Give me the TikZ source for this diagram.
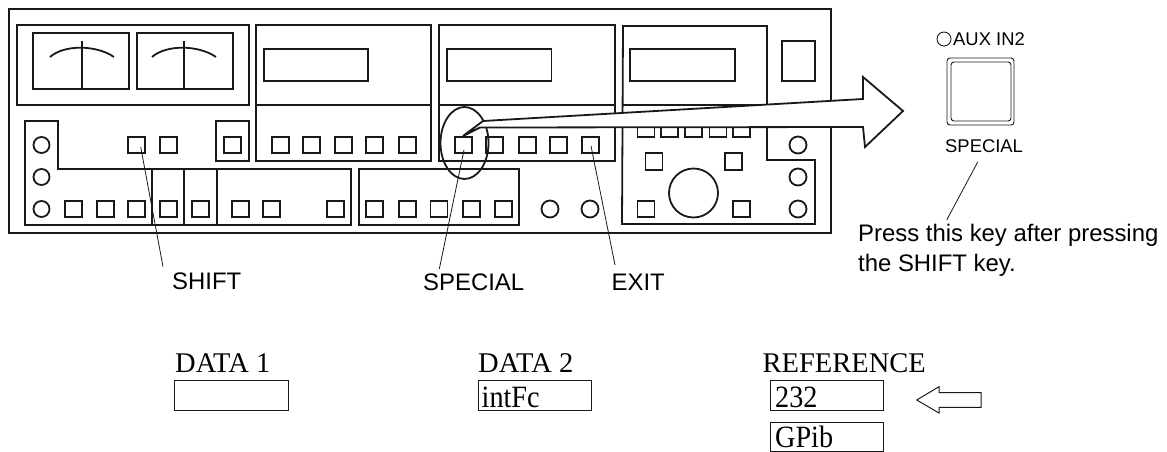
\documentclass[tikz,border=0pt]{standalone}
\usepackage{fontspec}
\setmainfont{Liberation Serif}
\newfontfamily\labelfont{Liberation Sans}
\usetikzlibrary{arrows.meta, positioning}
\tikzset{
  panel/.style={line width=1.8pt, black!90},
  key/.style={line width=1.8pt, black!90},
  leader/.style={line width=0.8pt, black!90},
  callout/.style={font=\labelfont\fontsize{23.9}{27}\selectfont, inner sep=0pt, anchor=base west},
  tag/.style={font=\labelfont\fontsize{18.4}{22}\selectfont, inner sep=0pt, anchor=base west},
  datatext/.style={font=\fontsize{28.5}{32}\selectfont, inner sep=0pt, anchor=base west},
  datavalue/.style={font=\fontsize{31}{34}\selectfont, inner sep=0pt, anchor=base west, xscale=0.91, transform shape},
  databox/.style={line width=1pt, black!90}
}
\begin{document}
\begin{tikzpicture}[x=1pt, y=-1pt]
  \useasboundingbox (0,0) rectangle (1167,452);
  % front panel
  \draw[panel] (9,9) rectangle (831,233);
  % meters
  \draw[panel] (17,25) rectangle (249,105);
  \foreach \mx/\cx in {33/82, 137/184} {
    \draw[panel] (\mx,33) rectangle (\mx+96,89);
    \draw[panel] (\cx,41) -- (\cx,89);
    \draw[panel] (\cx-32,57) .. controls (\cx-18,44.6) and (\cx+14,44.6) .. (\cx+32,57);
  }
  % displays
  \draw[panel] (256,25) rectangle (431,161);
  \draw[panel] (256,105) -- (431,105);
  \draw[panel] (264,49) rectangle (368,81);
  \draw[panel] (439,25) rectangle (615,161);
  \draw[panel] (439,105) -- (615,105);
  \draw[panel] (447,49) rectangle (551.5,81);
  \draw[panel] (623,26) -- (767,26) -- (767,160) -- (815,160) -- (815,224)
    -- (622,224) -- cycle;
  \draw[panel] (623,105) -- (767,105);
  \draw[panel] (630,49) rectangle (735,81);
  \draw[panel] (782,41) rectangle (815,81);
  % lower left groups
  \draw[panel] (25,121) -- (58,121) -- (58,169) -- (351,169) -- (351,225)
    -- (25,225) -- cycle;
  \foreach \dx in {152,184,217}
    \draw[panel] (\dx,169) -- (\dx,225);
  \draw[panel] (216,121) rectangle (249,161);
  \draw[panel] (359,169) rectangle (519,225);
  % keys
  \foreach \kx in {128,160,224,272,303,335,366,399,455,486,518.7,550,582}
    \draw[key] (\kx,137) rectangle (\kx+17,153);
  \foreach \kx in {65,97,128,160,192,232,263,327,366,398.7,430.5,462.7,494.7,637.5,732.7}
    \draw[key] (\kx,201) rectangle (\kx+17,217);
  \foreach \kx in {637.5,661,685,709.5,733}
    \draw[key] (\kx,121) rectangle (\kx+17,137);
  \foreach \kx in {645.5,725}
    \draw[key] (\kx,153) rectangle (\kx+17,170);
  % round keys
  \foreach \ky in {145,177,209} {
    \draw[key] (41.5,\ky) circle (8);
    \draw[key] (798,\ky) circle (8.5);
  }
  \draw[key] (550,209) circle (8.5);
  \draw[key] (590,209) circle (8.5);
  \draw[key] (693.5,193) circle (24.5);
  % ring round the key
  \draw[panel] (464.5,143) ellipse (24 and 36);
  % big arrow
  \draw[panel, fill=white, line join=miter] (463,136) -- (483,121) -- (863,99) -- (863,77)
    -- (903,111) -- (865,147) -- (863,127) -- (480,127.5) -- cycle;
  % key close-up
  \draw[line width=0.9pt, rounded corners=3pt, black!90] (947,58) rectangle (1014,125);
  \draw[line width=0.9pt, rounded corners=3pt, black!90] (951,62) rectangle (1011,121);
  \draw[line width=0.9pt, black!90] (944,39) circle (7);
  \node[tag] (auxlabel) at (953,45.5) {AUX IN2};
  \node[tag] (speciallabel) at (945,152) {SPECIAL};
  \node[callout] (pressnote) at (858,241) {Press this key after pressing};
  \node[callout] (shiftnote) at (858,271) {the SHIFT key.};
  % callouts
  \node[callout] (shiftlabel) at (172,289) {SHIFT};
  \node[callout] (speciallow) at (423,290.5) {SPECIAL};
  \node[callout] (exitlabel) at (611.5,290) {EXIT};
  \coordinate (shiftkey) at (140.7,147);
  \coordinate (specialkey) at (464,150);
  \coordinate (exitkey) at (591,146);
  \coordinate (shiftend) at (163,266.7);
  \coordinate (specialend) at (439.3,269);
  \coordinate (exitend) at (615,265);
  \coordinate (notetop) at (977.7,162);
  \coordinate (noteend) at (946.7,220);
  \draw[leader] (shiftkey) -- (shiftend);
  \draw[leader] (specialkey) -- (specialend);
  \draw[leader] (exitkey) -- (exitend);
  \draw[leader] (notetop) -- (noteend);
  % data windows
  \node[datatext] (dataone) at (175,372) {DATA 1};
  \node[datatext] (datatwo) at (478,372) {DATA 2};
  \node[datatext] (refer) at (762.5,372) {REFERENCE};
  \draw[databox] (174,380) rectangle (288,410);
  \draw[databox] (478,380) rectangle (591.5,410);
  \draw[databox] (770,380) rectangle (883,410);
  \draw[databox] (770,422) rectangle (883,451);
  \node[datavalue] (intfc) at (481.5,407.5) {intFc};
  \node[datavalue] (twothree) at (775,407) {232};
  \node[datavalue] (gpib) at (775,447) {GPib};
  \draw[databox] (916.7,400) -- (939,386.7) -- (939,392.7) -- (981,392.7) -- (981,407.3)
    -- (939,407.3) -- (939,413) -- cycle;
\end{tikzpicture}
\end{document}
